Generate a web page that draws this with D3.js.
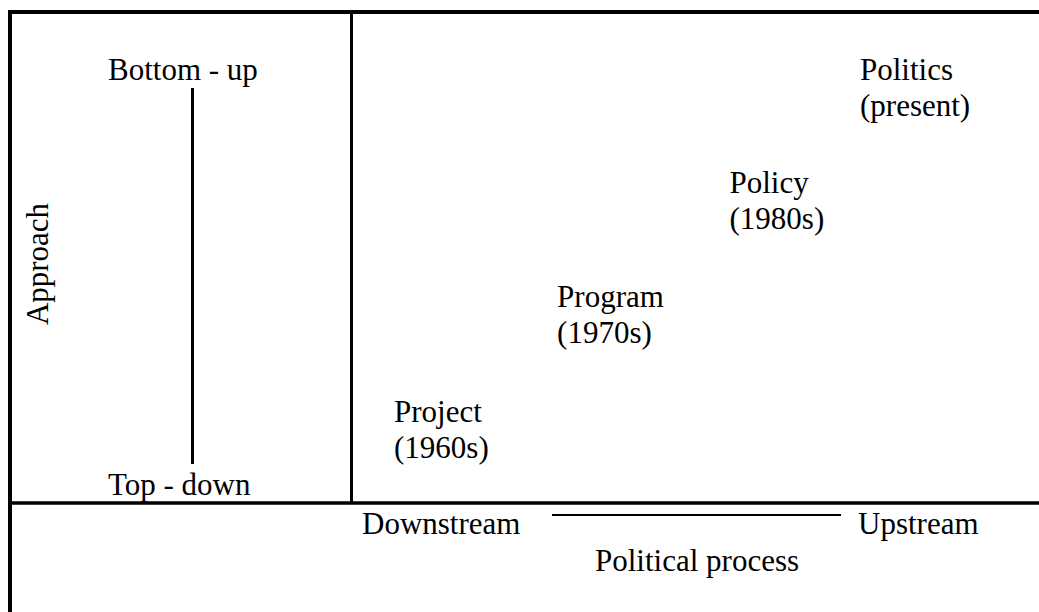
<!DOCTYPE html>
<html>
<head>
<meta charset="utf-8">
<script src="https://cdn.jsdelivr.net/npm/d3@7"></script>
<style>
  html, body { margin: 0; padding: 0; background: #fff; }
  svg { display: block; }
</style>
</head>
<body>
<svg id="svg" width="1039" height="612"></svg>
<script>
// stages of the political process
var stages = ["Project", "Program", "Policy", "Politics"];
var periods = ["(1960s)", "(1970s)", "(1980s)", "(present)"];
// position along political process (0 = downstream, 1 = upstream)
var processPos = [0, 0.35, 0.72, 1];
// position along approach (0 = top-down, 1 = bottom-up)
var approachPos = [0, 0.335, 0.67, 1];

var approachLabels = ["Top - down", "Bottom - up"];
var processLabels = ["Downstream", "Upstream"];

var svg = d3.select("#svg")
  .attr("font-family", "'Times New Roman', 'Liberation Serif', Tinos, 'DejaVu Serif', serif")
  .attr("font-size", 31);
var W = 1039, H = 612;

var xScale = d3.scaleLinear().domain([0, 1]).range([394, 860]);
var yScale = d3.scaleLinear().domain([0, 1]).range([422, 80]);
var lineGap = 36;

// frame
var frame = svg.append("g").attr("stroke", "#000").attr("fill", "none");
frame.append("line").attr("x1", 8).attr("x2", W).attr("y1", 12).attr("y2", 12).attr("stroke-width", 4);
frame.append("line").attr("x1", 10).attr("x2", 10).attr("y1", 10).attr("y2", H).attr("stroke-width", 4);
frame.append("line").attr("x1", 351.5).attr("x2", 351.5).attr("y1", 12).attr("y2", 503).attr("stroke-width", 3);
frame.append("line").attr("x1", 10).attr("x2", W).attr("y1", 503).attr("y2", 503).attr("stroke-width", 3.5);

// approach axis
frame.append("line").attr("x1", 192.5).attr("x2", 192.5).attr("y1", 88).attr("y2", 464).attr("stroke-width", 3);
svg.append("text").attr("x", 108).attr("y", 80).text(approachLabels[1]);
svg.append("text").attr("x", 108).attr("y", 495).text(approachLabels[0]);
svg.append("text")
  .attr("transform", "translate(48,264) rotate(-90)")
  .attr("text-anchor", "middle")
  .text("Approach");

// process axis
frame.append("line").attr("x1", 552).attr("x2", 841).attr("y1", 515).attr("y2", 515).attr("stroke-width", 2);
svg.append("text").attr("x", 362).attr("y", 534).text(processLabels[0]);
svg.append("text").attr("x", 858).attr("y", 534).text(processLabels[1]);
svg.append("text").attr("x", 595).attr("y", 571).text("Political process");

// stages
var g = svg.append("g");
var st = g.selectAll("g.stage")
  .data(stages)
  .enter()
  .append("g")
  .attr("class", "stage");
st.append("text")
  .attr("x", function (d, i) { return xScale(processPos[i]); })
  .attr("y", function (d, i) { return yScale(approachPos[i]); })
  .text(function (d) { return d; });
st.append("text")
  .attr("x", function (d, i) { return xScale(processPos[i]); })
  .attr("y", function (d, i) { return yScale(approachPos[i]) + lineGap; })
  .text(function (d, i) { return periods[i]; });
</script>
</body>
</html>
